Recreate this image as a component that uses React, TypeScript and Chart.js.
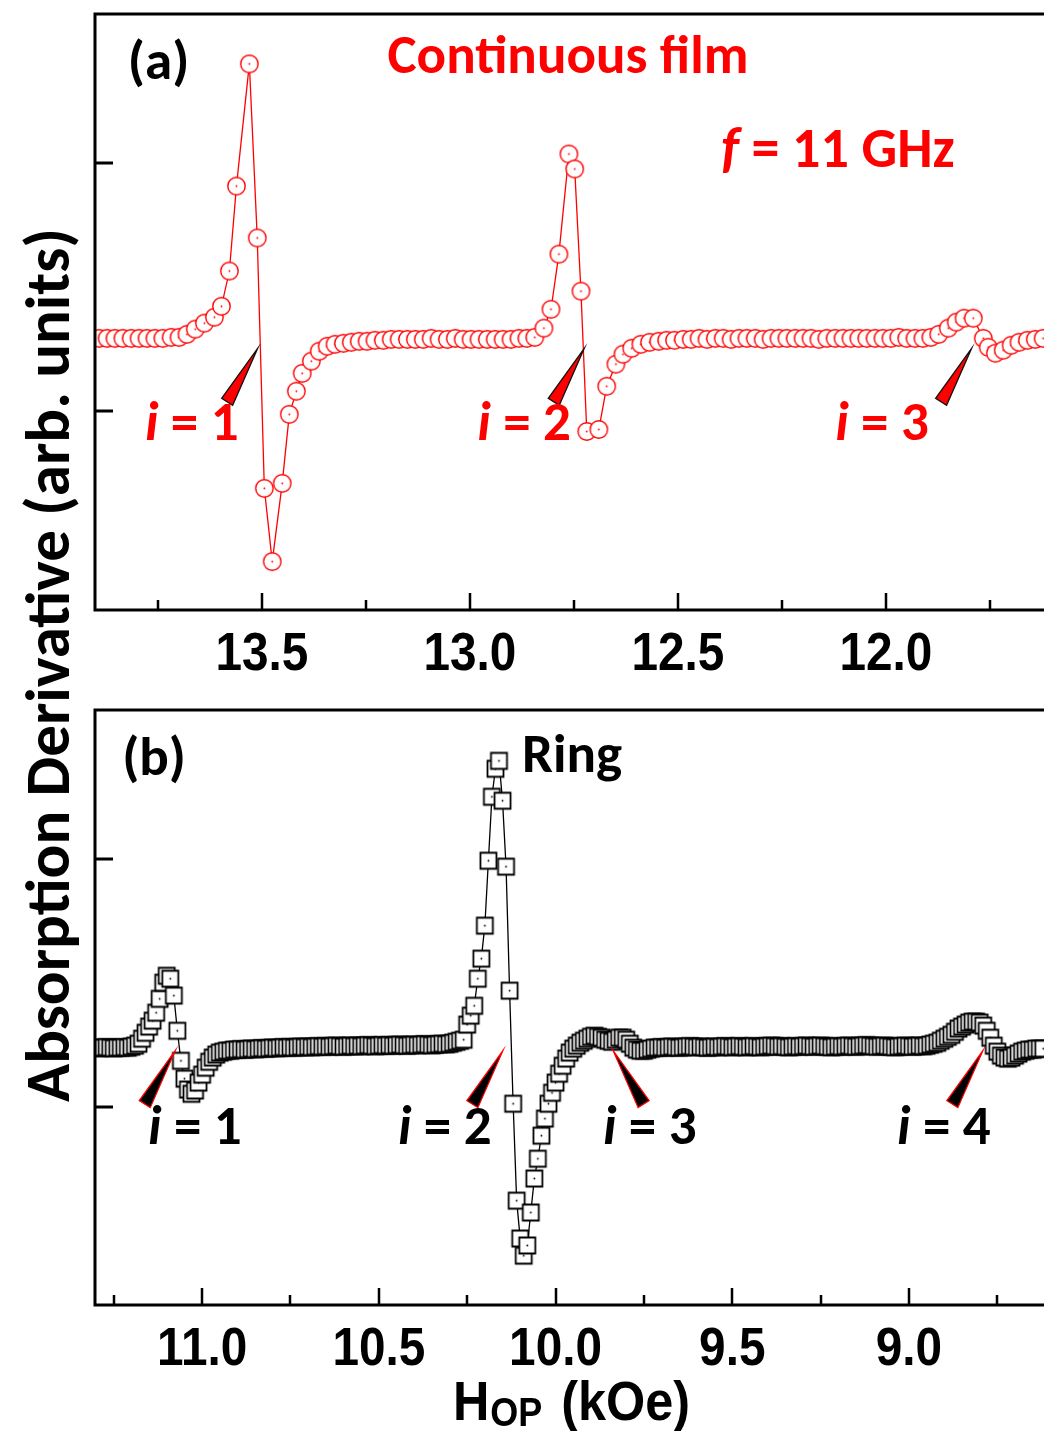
import React, { useEffect, useRef } from "react";
import { Chart, registerables } from "chart.js";
Chart.register(...registerables);

// ---------- Panel (a): continuous film ----------
const filmField = [
  13.891, 13.872, 13.853, 13.834, 13.814, 13.795, 13.776, 13.757, 13.738, 13.718,
  13.699, 13.680, 13.660, 13.638, 13.614, 13.597, 13.578, 13.561, 13.530, 13.511,
  13.494, 13.475, 13.451, 13.434, 13.417, 13.403, 13.381, 13.362, 13.343, 13.324,
  13.304, 13.285, 13.266, 13.247, 13.228, 13.208, 13.189, 13.170, 13.150, 13.131,
  13.112, 13.093, 13.074, 13.054, 13.035, 13.016, 12.997, 12.978, 12.958, 12.939,
  12.920, 12.901, 12.882, 12.863, 12.844, 12.822, 12.805, 12.786, 12.762, 12.748,
  12.733, 12.719, 12.690, 12.671, 12.649, 12.632, 12.611, 12.589, 12.568, 12.546,
  12.527, 12.508,
  12.487, 12.468, 12.449, 12.430, 12.410, 12.391, 12.372, 12.353, 12.334, 12.314,
  12.295, 12.276, 12.257, 12.238, 12.218, 12.199, 12.180, 12.161, 12.142, 12.122,
  12.103, 12.084, 12.065, 12.046, 12.026, 12.007, 11.988, 11.969, 11.950, 11.930,
  11.911,
  11.892, 11.873, 11.850, 11.831, 11.812, 11.790, 11.766, 11.754, 11.737, 11.718,
  11.699, 11.680, 11.660, 11.641, 11.622,
];
const filmSignal = [
  0.294, 0.294, 0.294, 0.294, 0.294, 0.294, 0.294, 0.294, 0.294, 0.298,
  0.298, 0.310, 0.331, 0.355, 0.379, 0.423, 0.565, 0.907, 1.399, 0.698,
  -0.310, -0.605, -0.290, -0.012, 0.081, 0.153, 0.202, 0.242, 0.262, 0.270,
  0.274, 0.278, 0.282, 0.282, 0.286, 0.286, 0.290, 0.290, 0.290, 0.290,
  0.290, 0.294, 0.290, 0.290, 0.294, 0.290, 0.290, 0.290, 0.290, 0.290,
  0.290, 0.290, 0.294, 0.294, 0.298, 0.335, 0.411, 0.633, 1.036, 0.976,
  0.484, -0.081, -0.073, 0.101, 0.190, 0.230, 0.254, 0.270, 0.278, 0.282,
  0.286, 0.286,
  0.290, 0.290, 0.294, 0.290, 0.294, 0.294, 0.290, 0.294, 0.294, 0.294,
  0.290, 0.294, 0.294, 0.294, 0.294, 0.294, 0.294, 0.290, 0.294, 0.294,
  0.294, 0.294, 0.294, 0.294, 0.294, 0.294, 0.294, 0.298, 0.294, 0.294,
  0.294,
  0.298, 0.310, 0.335, 0.359, 0.375, 0.375, 0.294, 0.258, 0.234, 0.246,
  0.266, 0.278, 0.286, 0.290, 0.294,
];
const filmTicks = [13.5, 13.0, 12.5, 12.0];
const filmMinorTicks = [13.75, 13.25, 12.75, 12.25, 11.75];

// ---------- Panel (b): ring ----------
const ringField = [
  11.30, 11.29, 11.28, 11.27, 11.26, 11.25, 11.24, 11.23, 11.22, 11.21,
  11.20, 11.19, 11.18, 11.17, 11.16, 11.15, 11.14, 11.13, 11.12, 11.11,
  11.10, 11.09, 11.08, 11.07, 11.06, 11.05, 11.04, 11.03, 11.02, 11.01,
  11.00, 10.99, 10.98, 10.97, 10.96, 10.95, 10.94, 10.93, 10.92, 10.91,
  10.90, 10.89, 10.88, 10.87, 10.86, 10.85, 10.84, 10.83, 10.82, 10.81,
  10.80, 10.79, 10.78, 10.77, 10.76, 10.75, 10.74, 10.73, 10.72, 10.71,
  10.70, 10.69, 10.68, 10.67, 10.66, 10.65, 10.64, 10.63, 10.62, 10.61,
  10.60, 10.59, 10.58, 10.57, 10.56, 10.55, 10.54, 10.53, 10.52, 10.51,
  10.50, 10.49, 10.48, 10.47, 10.46, 10.45, 10.44, 10.43, 10.42, 10.41,
  10.40, 10.39, 10.38, 10.37, 10.36, 10.35, 10.34, 10.33, 10.32, 10.31,
  10.30, 10.29, 10.28, 10.27, 10.26, 10.25, 10.24, 10.23, 10.22, 10.21,
  10.20, 10.19, 10.18, 10.17, 10.16, 10.15, 10.14, 10.13, 10.12, 10.11,
  10.10, 10.09, 10.08, 10.07, 10.06, 10.05, 10.04, 10.03, 10.02, 10.01,
  10.00, 9.99, 9.98, 9.97, 9.96, 9.95, 9.94, 9.93, 9.92, 9.91,
  9.90, 9.89, 9.88, 9.87, 9.86, 9.85, 9.84, 9.83, 9.82, 9.81,
  9.80, 9.79, 9.78, 9.77, 9.76, 9.75, 9.74, 9.73, 9.72, 9.71,
  9.70, 9.69, 9.68, 9.67, 9.66, 9.65, 9.64, 9.63, 9.62, 9.61,
  9.60, 9.59, 9.58, 9.57, 9.56, 9.55, 9.54, 9.53, 9.52, 9.51,
  9.50, 9.49, 9.48, 9.47, 9.46, 9.45, 9.44, 9.43, 9.42, 9.41,
  9.40, 9.39, 9.38, 9.37, 9.36, 9.35, 9.34, 9.33, 9.32, 9.31,
  9.30, 9.29, 9.28, 9.27, 9.26, 9.25, 9.24, 9.23, 9.22, 9.21,
  9.20, 9.19, 9.18, 9.17, 9.16, 9.15, 9.14, 9.13, 9.12, 9.11,
  9.10, 9.09, 9.08, 9.07, 9.06, 9.05, 9.04, 9.03, 9.02, 9.01,
  9.00, 8.99, 8.98, 8.97, 8.96, 8.95, 8.94, 8.93, 8.92, 8.91,
  8.90, 8.89, 8.88, 8.87, 8.86, 8.85, 8.84, 8.83, 8.82, 8.81,
  8.80, 8.79, 8.78, 8.77, 8.76, 8.75, 8.74, 8.73, 8.72, 8.71,
  8.70, 8.69, 8.68, 8.67, 8.66, 8.65, 8.64, 8.63, 8.62,
];
const ringSignal = [
  0.238, 0.236, 0.238, 0.240, 0.238, 0.236, 0.238, 0.238, 0.240, 0.238,
  0.242, 0.246, 0.254, 0.274, 0.298, 0.323, 0.347, 0.379, 0.435, 0.500,
  0.528, 0.516, 0.448, 0.306, 0.185, 0.113, 0.069, 0.052, 0.065, 0.097,
  0.129, 0.157, 0.181, 0.198, 0.210, 0.218, 0.222, 0.226, 0.226, 0.230,
  0.230, 0.232, 0.230, 0.232, 0.234, 0.232, 0.234, 0.236, 0.234, 0.236,
  0.238, 0.236, 0.238, 0.240, 0.238, 0.240, 0.238, 0.240, 0.242, 0.240,
  0.242, 0.240, 0.242, 0.244, 0.242, 0.244, 0.242, 0.244, 0.246, 0.244,
  0.242, 0.244, 0.246, 0.244, 0.246, 0.244, 0.246, 0.248, 0.246, 0.244,
  0.246, 0.248, 0.246, 0.248, 0.246, 0.248, 0.250, 0.248, 0.246, 0.248,
  0.250, 0.248, 0.250, 0.252, 0.250, 0.248, 0.250, 0.252, 0.254, 0.252,
  0.254, 0.258, 0.262, 0.266, 0.270, 0.331, 0.367, 0.407, 0.516, 0.597,
  0.730, 0.992, 1.250, 1.363, 1.395, 1.234, 0.968, 0.468, 0.012, -0.379,
  -0.532, -0.601, -0.560, -0.427, -0.290, -0.210, -0.117, -0.048, 0.012, 0.056,
  0.097, 0.133, 0.165, 0.194, 0.218, 0.234, 0.246, 0.258, 0.266, 0.274,
  0.282, 0.286, 0.282, 0.278, 0.270, 0.266, 0.262, 0.270, 0.278, 0.278,
  0.270, 0.254, 0.238, 0.230, 0.226, 0.226, 0.230, 0.234, 0.238, 0.238,
  0.240, 0.238, 0.240, 0.242, 0.240, 0.238, 0.240, 0.242, 0.244, 0.242,
  0.240, 0.242, 0.240, 0.238, 0.240, 0.242, 0.240, 0.242, 0.244, 0.242,
  0.240, 0.242, 0.244, 0.242, 0.240, 0.242, 0.244, 0.242, 0.240, 0.242,
  0.244, 0.246, 0.244, 0.242, 0.244, 0.242, 0.240, 0.242, 0.244, 0.242,
  0.244, 0.246, 0.244, 0.242, 0.244, 0.246, 0.244, 0.242, 0.240, 0.242,
  0.244, 0.242, 0.244, 0.246, 0.244, 0.242, 0.244, 0.246, 0.248, 0.246,
  0.244, 0.242, 0.244, 0.246, 0.244, 0.242, 0.240, 0.242, 0.244, 0.246,
  0.244, 0.242, 0.244, 0.246, 0.244, 0.246, 0.250, 0.254, 0.258, 0.266,
  0.274, 0.282, 0.290, 0.302, 0.315, 0.323, 0.331, 0.339, 0.343, 0.343,
  0.339, 0.327, 0.306, 0.278, 0.246, 0.222, 0.206, 0.198, 0.194, 0.198,
  0.206, 0.214, 0.222, 0.226, 0.230, 0.230, 0.234, 0.234, 0.234,
];
const ringTicks = [11.0, 10.5, 10.0, 9.5, 9.0];
const ringMinorTicks = [11.25, 10.75, 10.25, 9.75, 9.25, 8.75];

const signalTicks = [0, 1];

const RED = "#ff0000";
const TICK_FONT = "'Liberation Sans', Arimo, Arial, sans-serif";
const TICK_SQUEEZE = 0.9;
const LABEL_FONT = "Carlito, Lato, 'Open Sans', sans-serif";

type Note = { parts: [string, boolean][]; x: number; y: number; color: string; size: number };
type Pointer = { x: number; y: number; dir: number };

const filmNotes: Note[] = [
  { parts: [["(a)", false]], x: 13.822, y: 1.395, color: "#000", size: 55 },
  { parts: [["Continuous film", false]], x: 13.198, y: 1.419, color: RED, size: 55 },
  { parts: [["f", true], [" = 11 GHz", false]], x: 12.396, y: 1.04, color: RED, size: 56 },
  { parts: [["i", true], [" = 1", false]], x: 13.781, y: -0.06, color: RED, size: 55 },
  { parts: [["i", true], [" = 2", false]], x: 12.982, y: -0.06, color: RED, size: 55 },
  { parts: [["i", true], [" = 3", false]], x: 12.122, y: -0.06, color: RED, size: 55 },
];
const filmPointers: Pointer[] = [
  { x: 13.51, y: 0.254, dir: -1 },
  { x: 12.725, y: 0.254, dir: -1 },
  { x: 11.794, y: 0.254, dir: -1 },
];
const ringNotes: Note[] = [
  { parts: [["(b)", false]], x: 11.226, y: 1.395, color: "#000", size: 55 },
  { parts: [["Ring", false]], x: 10.095, y: 1.407, color: "#000", size: 55 },
  { parts: [["i", true], [" = 1", false]], x: 11.153, y: -0.097, color: "#000", size: 55 },
  { parts: [["i", true], [" = 2", false]], x: 10.446, y: -0.097, color: "#000", size: 55 },
  { parts: [["i", true], [" = 3", false]], x: 9.866, y: -0.097, color: "#000", size: 55 },
  { parts: [["i", true], [" = 4", false]], x: 9.034, y: -0.097, color: "#000", size: 55 },
];
const ringPointers: Pointer[] = [
  { x: 11.076, y: 0.226, dir: -1 },
  { x: 10.149, y: 0.226, dir: -1 },
  { x: 9.837, y: 0.226, dir: 1 },
  { x: 8.791, y: 0.226, dir: -1 },
];

function makeMarker(kind: "circle" | "square", color: string): HTMLCanvasElement {
  const c = document.createElement("canvas");
  const s = 21;
  c.width = s;
  c.height = s;
  const g = c.getContext("2d")!;
  g.fillStyle = "#fff";
  g.strokeStyle = color;
  if (kind === "circle") {
    g.lineWidth = 1.4;
    g.beginPath();
    g.arc(s / 2, s / 2, 8.7, 0, Math.PI * 2);
    g.fill();
    g.stroke();
  } else {
    g.lineWidth = 1.8;
    g.beginPath();
    g.rect(2.5, 2.5, s - 5, s - 5);
    g.fill();
    g.stroke();
  }
  g.fillStyle = color;
  g.beginPath();
  g.arc(s / 2, s / 2, 0.9, 0, Math.PI * 2);
  g.fill();
  return c;
}

function squeezedText(ctx: CanvasRenderingContext2D, text: string, x: number, y: number): number {
  ctx.save();
  ctx.translate(x, y);
  ctx.scale(TICK_SQUEEZE, 1);
  ctx.fillText(text, 0, 0);
  ctx.restore();
  return ctx.measureText(text).width * TICK_SQUEEZE;
}

function framePlugin(major: number[], minor: number[]) {
  return {
    id: "frame",
    afterDatasetsDraw(chart: any) {
      const { ctx, chartArea: a, scales } = chart;
      ctx.save();
      ctx.strokeStyle = "#000";
      ctx.lineCap = "butt";
      ctx.lineWidth = 3;
      ctx.beginPath();
      ctx.moveTo(a.right + 4, a.top);
      ctx.lineTo(a.left, a.top);
      ctx.lineTo(a.left, a.bottom);
      ctx.lineTo(a.right + 4, a.bottom);
      ctx.stroke();
      ctx.lineWidth = 2.5;
      ctx.beginPath();
      for (const v of major) {
        const px = Math.round(scales.x.getPixelForValue(v));
        ctx.moveTo(px, a.bottom);
        ctx.lineTo(px, a.bottom - 17);
      }
      for (const v of minor) {
        const px = Math.round(scales.x.getPixelForValue(v));
        ctx.moveTo(px, a.bottom);
        ctx.lineTo(px, a.bottom - 10);
      }
      ctx.stroke();
      ctx.lineWidth = 3;
      ctx.beginPath();
      for (const v of signalTicks) {
        const py = Math.round(scales.y.getPixelForValue(v));
        ctx.moveTo(a.left, py);
        ctx.lineTo(a.left + 18, py);
      }
      ctx.stroke();
      // tick labels
      ctx.fillStyle = "#000";
      ctx.font = `bold 53px ${TICK_FONT}`;
      ctx.textBaseline = "alphabetic";
      ctx.textAlign = "center";
      for (const v of major) {
        const px = scales.x.getPixelForValue(v);
        squeezedText(ctx, v.toFixed(1), px, a.bottom + 60);
      }
      ctx.restore();
    },
  };
}

function notesPlugin(notes: Note[], pointers: Pointer[], fill: string, edge: string, axisTitle: boolean) {
  return {
    id: "notes",
    afterDraw(chart: any) {
      const { ctx, scales, chartArea: a } = chart;
      ctx.save();
      for (const p of pointers) {
        const tx = scales.x.getPixelForValue(p.x);
        const ty = scales.y.getPixelForValue(p.y);
        ctx.beginPath();
        ctx.moveTo(tx, ty);
        ctx.lineTo(tx + p.dir * 36, ty + 50);
        ctx.lineTo(tx + p.dir * 25, ty + 57);
        ctx.closePath();
        ctx.fillStyle = fill;
        ctx.fill();
        ctx.lineWidth = 1.3;
        ctx.strokeStyle = edge;
        ctx.stroke();
      }
      ctx.textBaseline = "middle";
      ctx.textAlign = "left";
      for (const n of notes) {
        let x = scales.x.getPixelForValue(n.x);
        const y = scales.y.getPixelForValue(n.y);
        ctx.fillStyle = n.color;
        for (const [t, it] of n.parts) {
          ctx.font = `${it ? "italic " : ""}bold ${n.size}px ${LABEL_FONT}`;
          ctx.fillText(t, x, y);
          x += ctx.measureText(t).width;
        }
      }
      if (axisTitle) {
        const big = `bold 56px ${TICK_FONT}`;
        const small = `bold 40px ${TICK_FONT}`;
        ctx.textAlign = "left";
        ctx.textBaseline = "alphabetic";
        ctx.font = big;
        const wH = ctx.measureText("H").width * TICK_SQUEEZE;
        const wK = ctx.measureText("(kOe)").width * TICK_SQUEEZE;
        ctx.font = small;
        const wO = ctx.measureText("OP").width * TICK_SQUEEZE;
        const gap = 20;
        const cx = (a.left + a.right) / 2 + 2;
        let x = cx - (wH + wO + gap + wK) / 2;
        ctx.fillStyle = "#000";
        ctx.font = big;
        x += squeezedText(ctx, "H", x, a.bottom + 115);
        ctx.font = small;
        x += squeezedText(ctx, "OP", x + 1, a.bottom + 121) + gap;
        ctx.font = big;
        squeezedText(ctx, "(kOe)", x, a.bottom + 115);
      }
      ctx.restore();
    },
  };
}

function buildConfig(
  field: number[], signal: number[], color: string, marker: HTMLCanvasElement,
  xmin: number, xmax: number, ticks: number[], minor: number[],
  notes: Note[], pointers: Pointer[], fill: string, edge: string,
  padTop: number, axisHeight: number, axisTitle: boolean
): any {
  return {
    type: "line",
    data: {
      datasets: [
        {
          data: field.map((x, i) => ({ x, y: signal[i] })),
          borderColor: color,
          borderWidth: 1.3,
          tension: 0,
          pointStyle: marker,
          pointRadius: 8.5,
          pointHoverRadius: 8.5,
        },
      ],
    },
    options: {
      animation: false,
      responsive: false,
      maintainAspectRatio: false,
      events: [],
      layout: { autoPadding: false, padding: { left: 0, right: 0, top: padTop, bottom: 0 } },
      plugins: { legend: { display: false }, tooltip: { enabled: false } },
      scales: {
        x: {
          type: "linear",
          reverse: true,
          min: xmin,
          max: xmax,
          grid: { display: false, drawTicks: false },
          border: { display: false },
          afterBuildTicks: (s: any) => {
            s.ticks = ticks.map((v) => ({ value: v }));
          },
          afterFit: (s: any) => {
            s.height = axisHeight;
            s.paddingLeft = 0;
            s.paddingRight = 0;
          },
          ticks: { display: false },
        },
        y: {
          type: "linear",
          min: -0.8,
          max: 1.6,
          grid: { display: false, drawTicks: false },
          border: { display: false },
          ticks: { display: false },
          afterFit: (s: any) => {
            s.width = 95;
          },
        },
      },
    },
    plugins: [framePlugin(ticks, minor), notesPlugin(notes, pointers, fill, edge, axisTitle)],
  };
}

export default function App() {
  const refA = useRef<HTMLCanvasElement>(null);
  const refB = useRef<HTMLCanvasElement>(null);

  useEffect(() => {
    const circle = makeMarker("circle", RED);
    const square = makeMarker("square", "#000");
    const chartA = new Chart(
      refA.current!,
      buildConfig(filmField, filmSignal, RED, circle, 11.62, 13.901, filmTicks, filmMinorTicks,
        filmNotes, filmPointers, RED, "#111", 14, 90, false)
    );
    const chartB = new Chart(
      refB.current!,
      buildConfig(ringField, ringSignal, "#000", square, 8.618, 11.303, ringTicks, ringMinorTicks,
        ringNotes, ringPointers, "#000", RED, 10, 126, true)
    );
    return () => {
      chartA.destroy();
      chartB.destroy();
    };
  }, []);

  return (
    <div style={{ position: "absolute", left: 0, top: 0, width: 1044, height: 1431, background: "#fff", overflow: "hidden" }}>
      <canvas ref={refA} width={1044} height={700} style={{ position: "absolute", left: 0, top: 0, width: 1044, height: 700 }} />
      <canvas ref={refB} width={1044} height={731} style={{ position: "absolute", left: 0, top: 700, width: 1044, height: 731 }} />
      <div
        style={{
          position: "absolute",
          left: 45 - 480,
          top: 665 - 36,
          width: 960,
          height: 72,
          lineHeight: "72px",
          textAlign: "center",
          transform: "rotate(-90deg)",
          font: `bold 63px ${LABEL_FONT}`,
          color: "#000",
          whiteSpace: "nowrap",
        }}
      >
        Absorption Derivative (arb. units)
      </div>
    </div>
  );
}
